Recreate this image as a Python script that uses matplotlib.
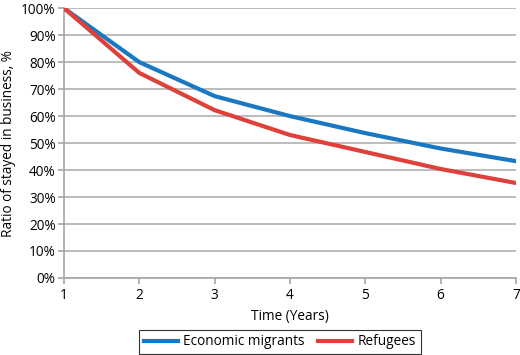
import matplotlib
matplotlib.use("Agg")
import matplotlib.pyplot as plt
from matplotlib.ticker import PercentFormatter

years = [1, 2, 3, 4, 5, 6, 7]
economic = [100, 80, 67.4, 60, 53.7, 48, 43.3]
refugees = [100, 76, 62.2, 53, 46.7, 40.4, 35.2]

plt.rcParams['font.family'] = ['Open Sans', 'DejaVu Sans']
plt.rcParams['font.size'] = 9.8

fig = plt.figure(figsize=(5.2, 3.55), dpi=100)
ax = fig.add_axes([0.123, 0.217, 0.869, 0.76])

ax.plot(years, economic, color='#1a78c2', lw=3, label='Economic migrants', zorder=3)
ax.plot(years, refugees, color='#e0403a', lw=3, label='Refugees', zorder=3)

ax.set_xlim(1, 7)
ax.set_ylim(0, 100)
ax.set_yticks(range(0, 101, 10))
ax.yaxis.set_major_formatter(PercentFormatter(decimals=0))
ax.grid(axis='y', color='#b0b0b0', lw=1.2)
ax.set_axisbelow(True)

for s in ['top', 'right']:
    ax.spines[s].set_visible(False)
for s in ['left', 'bottom']:
    ax.spines[s].set_color('#a6a6a6')
    ax.spines[s].set_linewidth(1.2)
ax.tick_params(axis='both', colors='#a6a6a6', length=4, width=1.2, labelcolor='black')
ax.tick_params(axis='y', pad=2)

ax.set_xlabel('Time (Years)', labelpad=4)
ax.set_ylabel('Ratio of stayed in business, %', labelpad=4)

leg = fig.legend(loc='center', bbox_to_anchor=(0.538, 0.037), ncol=2, frameon=True,
                 fancybox=False, edgecolor='black', handlelength=2.5, columnspacing=1.0,
                 borderpad=0.35, handletextpad=0.4)
leg.get_frame().set_linewidth(0.8)

fig.savefig('out.png', dpi=100)
